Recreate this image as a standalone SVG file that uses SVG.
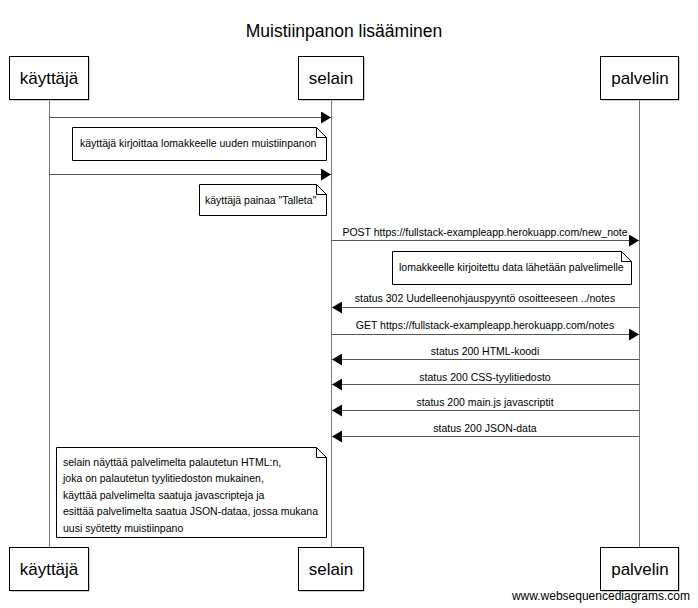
<svg xmlns="http://www.w3.org/2000/svg" width="698" height="608" viewBox="0 0 698 608">
<style>
text{font-family:"Liberation Sans",Arial,sans-serif;fill:#000}
.title{font-size:17.5px;text-anchor:middle}
.part{font-size:17px;text-anchor:middle}
.lbl{font-size:10.5px;text-anchor:middle}
.nt{font-size:10.5px}
.box{fill:#fff;stroke:#000;stroke-width:1}
.shadow{fill:#999}
.life{stroke:#777;stroke-width:1}
.msg{stroke:#555;stroke-width:1;fill:none}
.note{fill:#fff;stroke:#000;stroke-width:1}
.wm{font-size:12px;text-anchor:end}
</style>
<defs>
<marker id="ah" viewBox="0 0 10 12" refX="10" refY="6" markerWidth="10" markerHeight="12" markerUnits="userSpaceOnUse" orient="auto">
<path d="M0,0 L10,6 L0,12 Z" fill="#000"/>
</marker>
</defs>
<rect width="698" height="608" fill="#fff"/>
<text class="title" x="344" y="37">Muistiinpanon lisääminen</text>

<g id="lifelines">
<line class="life" x1="49.5" y1="99" x2="49.5" y2="547"/>
<line class="life" x1="331.5" y1="99" x2="331.5" y2="547"/>
<line class="life" x1="639.5" y1="99" x2="639.5" y2="547"/>
</g>

<g id="kayttaja">
<rect class="shadow" x="10.5" y="57.5" width="79" height="43"/>
<rect class="box" x="9.5" y="56.5" width="79" height="43"/>
<text class="part" x="49" y="84">käyttäjä</text>
<rect class="shadow" x="10.5" y="548.5" width="79" height="43"/>
<rect class="box" x="9.5" y="547.5" width="79" height="43"/>
<text class="part" x="49" y="575">käyttäjä</text>
</g>
<g id="selain">
<rect class="shadow" x="299.5" y="57.5" width="65" height="43"/>
<rect class="box" x="298.5" y="56.5" width="65" height="43"/>
<text class="part" x="331" y="84">selain</text>
<rect class="shadow" x="299.5" y="548.5" width="65" height="43"/>
<rect class="box" x="298.5" y="547.5" width="65" height="43"/>
<text class="part" x="331" y="575">selain</text>
</g>
<g id="palvelin">
<rect class="shadow" x="601.5" y="57.5" width="78" height="43"/>
<rect class="box" x="600.5" y="56.5" width="78" height="43"/>
<text class="part" x="640" y="84">palvelin</text>
<rect class="shadow" x="601.5" y="548.5" width="78" height="43"/>
<rect class="box" x="600.5" y="547.5" width="78" height="43"/>
<text class="part" x="640" y="575">palvelin</text>
</g>

<g id="connectors">
<line class="msg" x1="49.5" y1="117.5" x2="331" y2="117.5" marker-end="url(#ah)"/>
<line class="msg" x1="49.5" y1="174.5" x2="331" y2="174.5" marker-end="url(#ah)"/>
<line class="msg" x1="331.5" y1="240.5" x2="639" y2="240.5" marker-end="url(#ah)"/>
<text class="lbl" x="485" y="236">POST https://fullstack-exampleapp.herokuapp.com/new_note</text>
<line class="msg" x1="639.5" y1="307.5" x2="332" y2="307.5" marker-end="url(#ah)"/>
<text class="lbl" x="485" y="302">status 302 Uudelleenohjauspyyntö osoitteeseen ../notes</text>
<line class="msg" x1="331.5" y1="334.5" x2="639" y2="334.5" marker-end="url(#ah)"/>
<text class="lbl" x="485" y="329">GET https://fullstack-exampleapp.herokuapp.com/notes</text>
<line class="msg" x1="639.5" y1="359.5" x2="332" y2="359.5" marker-end="url(#ah)"/>
<text class="lbl" x="485" y="355">status 200 HTML-koodi</text>
<line class="msg" x1="639.5" y1="384.5" x2="332" y2="384.5" marker-end="url(#ah)"/>
<text class="lbl" x="485" y="381">status 200 CSS-tyylitiedosto</text>
<line class="msg" x1="639.5" y1="410.5" x2="332" y2="410.5" marker-end="url(#ah)"/>
<text class="lbl" x="485" y="406">status 200 main.js javascriptit</text>
<line class="msg" x1="639.5" y1="436.5" x2="332" y2="436.5" marker-end="url(#ah)"/>
<text class="lbl" x="485" y="432">status 200 JSON-data</text>
</g>

<g id="note1">
<path class="note" d="M72.5,127.5 H316.5 L326.5,137.5 V160.5 H72.5 Z M316.5,127.5 V137.5 H326.5"/>
<text class="nt" x="80" y="147">käyttäjä kirjoittaa lomakkeelle uuden muistiinpanon</text>
</g>
<g id="note2">
<path class="note" d="M199.5,184.5 H316.5 L326.5,194.5 V215.5 H199.5 Z M316.5,184.5 V194.5 H326.5"/>
<text class="nt" x="205" y="204">käyttäjä painaa "Talleta"</text>
</g>
<g id="note3">
<path class="note" d="M392.5,251.5 H621.5 L631.5,261.5 V284.5 H392.5 Z M621.5,251.5 V261.5 H631.5"/>
<text class="nt" x="399" y="271">lomakkeelle kirjoitettu data lähetään palvelimelle</text>
</g>
<g id="note4">
<path class="note" d="M56.5,447.5 H316.5 L326.5,457.5 V537.5 H56.5 Z M316.5,447.5 V457.5 H326.5"/>
<text class="nt" x="63" y="466">selain näyttää palvelimelta palautetun HTML:n,</text>
<text class="nt" x="63" y="482">joka on palautetun tyylitiedoston mukainen,</text>
<text class="nt" x="63" y="499">käyttää palvelimelta saatuja javascripteja ja</text>
<text class="nt" x="63" y="515">esittää palvelimelta saatua JSON-dataa, jossa mukana</text>
<text class="nt" x="63" y="532">uusi syötetty muistiinpano</text>
</g>

<text class="wm" x="690" y="600">www.websequencediagrams.com</text>
</svg>
